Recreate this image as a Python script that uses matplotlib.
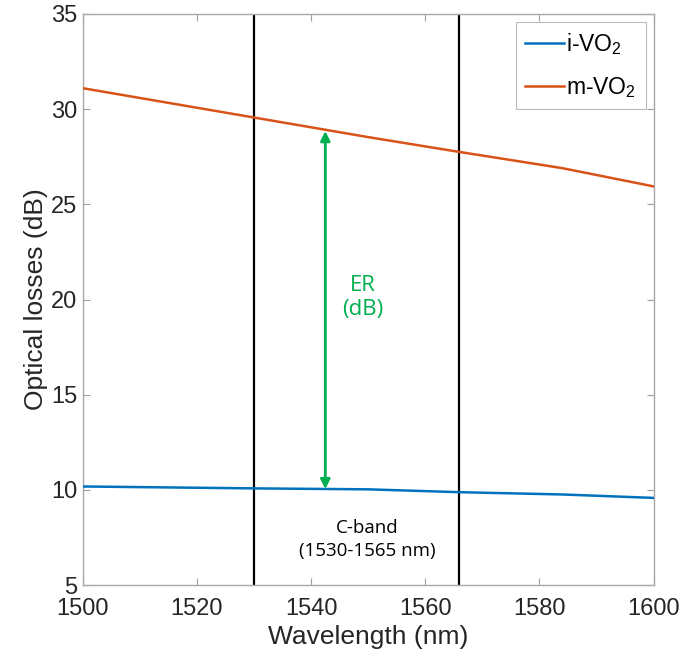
import matplotlib
matplotlib.use("Agg")
import matplotlib.pyplot as plt

plt.rcParams['font.family'] = ['Liberation Sans', 'DejaVu Sans']
plt.rcParams['mathtext.default'] = 'regular'
plt.rcParams['mathtext.fontset'] = 'custom'
plt.rcParams['mathtext.rm'] = 'Liberation Sans'

# Data
wl_i = [1500, 1530, 1550, 1566, 1584, 1600]
loss_i = [10.18, 10.08, 10.03, 9.88, 9.76, 9.58]
wl_m = [1500, 1530, 1550, 1566, 1584, 1600]
loss_m = [31.1, 29.56, 28.53, 27.75, 26.9, 25.94]
series_labels = ['i-VO$_2$', 'm-VO$_2$']
band_edges = [1530, 1566]
er_x = 1542.5
er_y = [10.04, 28.85]
xticks = [1500, 1520, 1540, 1560, 1580, 1600]
yticks = [5, 10, 15, 20, 25, 30, 35]

fig = plt.figure(figsize=(6.83, 6.63), dpi=100)
ax = fig.add_axes([0.121, 0.1175, 0.836, 0.8615])

ax.plot(wl_i, loss_i, color='#0072BD', lw=1.8, label=series_labels[0], zorder=3)
ax.plot(wl_m, loss_m, color='#D95319', lw=1.8, label=series_labels[1], zorder=3)

for xb in band_edges:
    ax.axvline(xb, color='black', lw=1.6, zorder=2)

ax.annotate('', xy=(er_x, er_y[1]), xytext=(er_x, er_y[0]),
            arrowprops=dict(arrowstyle='<|-|>', color='#00B050', lw=2,
                            mutation_scale=14, shrinkA=0, shrinkB=0), zorder=4)
ax.text(1549, 20.1, 'ER\n(dB)', color='#00B050', fontsize=16, family=['Open Sans', 'DejaVu Sans'],
        ha='center', va='center', linespacing=1.2)
ax.text(1549.8, 7.4, 'C-band\n(1530-1565 nm)', color='black', fontsize=13.5,
        family=['Open Sans', 'DejaVu Sans'], ha='center', va='center', linespacing=1.35)

ax.set_xlim(1500, 1600)
ax.set_ylim(5, 35)
ax.set_xticks(xticks)
ax.set_yticks(yticks)
ax.tick_params(direction='in', length=5, width=0.8, top=True, right=True,
               labelsize=17, colors='#A0A0A0', labelcolor='#262626')
ax.tick_params(axis='x', pad=9)
ax.tick_params(axis='y', pad=4)
for s in ax.spines.values():
    s.set_color('#A8A8A8')
    s.set_linewidth(1.0)

ax.set_xlabel('Wavelength (nm)', fontsize=19, color='#262626', labelpad=4)
ax.set_ylabel('Optical losses (dB)', fontsize=19, color='#262626', labelpad=2)

leg = ax.legend(loc='upper right', fontsize=16.5, frameon=True, fancybox=False,
                edgecolor='#A8A8A8', borderaxespad=0.35, handlelength=1.7,
                handletextpad=0.1, borderpad=0.4, labelspacing=0.8)
leg.get_frame().set_linewidth(0.8)

fig.savefig('out.png', dpi=100)
